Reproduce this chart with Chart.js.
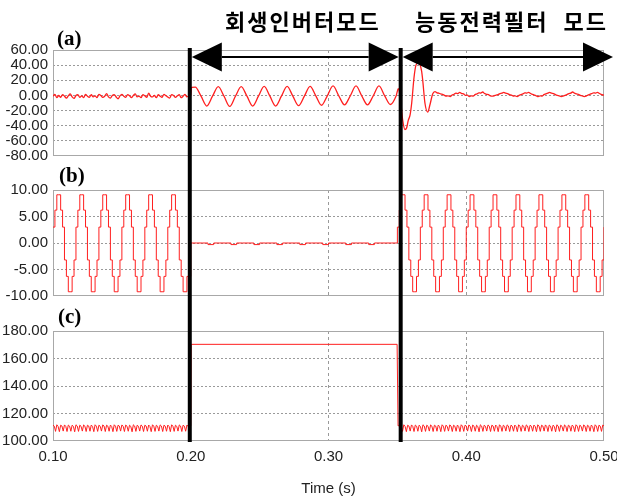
<!DOCTYPE html>
<html>
<head>
<meta charset="utf-8">
<script src="https://cdn.jsdelivr.net/npm/chart.js@4.4.0/dist/chart.umd.min.js"></script>
<style>
  html, body { margin: 0; padding: 0; background: #fff; }
  body { width: 617px; height: 501px; overflow: hidden; position: relative; }
  canvas { position: absolute; left: 0; }
  .lbl { position: absolute; font: bold 21px 'Liberation Serif', serif; line-height: 21px; color: #000; }
  .mode { position: absolute; top: 9px; font: bold 22px 'Noto Sans CJK KR', sans-serif; line-height: 22px; letter-spacing: 2px; white-space: pre; color: #000; }
</style>
</head>
<body>
<canvas id="pa" width="640" height="170" style="top:0"></canvas>
<canvas id="pb" width="640" height="140" style="top:170px"></canvas>
<canvas id="pc" width="640" height="191" style="top:310px"></canvas>
<div class="lbl" style="left:57px; top:28px">(a)</div>
<div class="lbl" style="left:59px; top:165px">(b)</div>
<div class="lbl" style="left:58px; top:306px">(c)</div>
<div class="mode" style="left:225px">회생인버터모드</div>
<div class="mode" style="left:415px; word-spacing:8px">능동전력필터 모드</div>
<script>
// time axis
const xTicks = [0.10, 0.20, 0.30, 0.40, 0.50];
const boundaries = [0.1993, 0.3524];          // thick black mode lines
const arrowSpans = [[0.1993, 0.3524], [0.3524, 0.508]];

// (a) y ticks + data
const aTicks = [-80, -60, -40, -20, 0, 20, 40, 60];
const aPre = [ // t = 0.10 .. 0.20, step 1/720
  -1, 1.5, -3, 0, -2.5, 1, -1, -3.5, -0.5, 2, -2, -4, 0, 1, -2.5, -0.5, -3, 1.5, -1, -2.5,
  1, -2, -0.5, -3, 1.5, 0, -2.5, -1, 2.5, -2, -3.5, 0, 1, -2, -4.5, -0.5, 1.5, -1, -2.5, 1,
  -0.5, -3, 0, 2, -2, -1, -3, 1, -0.5, -2.5, 3, -1, -2, 0, -3, 1, -1, -2.5, 1.5, -0.5,
  -2, -3.5, 1, 0, -2.5, -0.5, 1, -3, -1, 1.5, -2, -0.5, 0
];
const aJump = [[0.2006, 10.5]];
const aSine = [ // t = 0.2033 .. 0.3492, step 1/240
  11, -1, -14, -1, 11.5, -1, -14.5, -1, 11.5, -1, -14, -1,
  12, -1, -14, -1, 12, -1, -13.5, -1, 12, -0.5, -13, -0.5,
  12.5, -0.5, -12.5, -0.5, 12.5, -0.5, -12.5, -0.5, 12.5, -0.5, -12, -0.5
];
const aTrans = [
  [0.3507, 9], [0.3522, -5], [0.3538, -32], [0.3555, -45], [0.3567, -43], [0.3579, -33],
  [0.3592, -26], [0.3604, -10], [0.3621, 24], [0.3635, 40], [0.3650, 43], [0.3664, 41],
  [0.3676, 32], [0.3684, 20], [0.3700, -10], [0.3720, -22], [0.3737, -12], [0.3756, 2],
  [0.3773, 5], [0.3788, 3.5]
];
const aPost = [ // t = 0.38 .. 0.50, step 1/720
  3, 2, 1.5, 0, -1, -0.5, -1.5, 0.5, 1.5, 3, 2.5, 4, 2.5, 2, 0, 0.5, -1.5, -0.5, -1, 1,
  2, 3.5, 3, 4.5, 2.5, 1.5, 1, -0.5, -1, -0.5, 0.5, 1, 2.5, 3, 4, 3, 2.5, 1, 0.5, -1,
  -0.5, -1.5, 0, 1, 2, 3.5, 3, 4, 2.5, 1.5, 0.5, -0.5, -1.5, -0.5, -1, 1, 2, 3, 4, 3,
  2.5, 1, 0, -0.5, -1.5, -1, 0, 1, 2.5, 3, 4.5, 3, 2, 1.5, 0, -0.5, -1.5, -1, 0.5, 1.5,
  2.5, 3.5, 3, 4, 2.5, 1.5, 0.5, 1
];

// (b) y ticks + data
const bTicks = [-10, -5, 0, 5, 10];
const bPre = [ // t = 0.10 .., step 1/720
  3, 6.2, 9.1, 9.1, 6.2, 3, -3.2, -6.3, -9.2, -9.2, -6.3, -3.2,
  3, 6.2, 9.1, 9.1, 6.2, 3, -3.2, -6.3, -9.2, -9.2, -6.3, -3.2,
  3, 6.2, 9.1, 9.1, 6.2, 3, -3.2, -6.3, -9.2, -9.2, -6.3, -3.2,
  3, 6.2, 9.1, 9.1, 6.2, 3, -3.2, -6.3, -9.2, -9.2, -6.3, -3.2,
  3, 6.2, 9.1, 9.1, 6.2, 3, -3.2, -6.3, -9.2, -9.2, -6.3, -3.2,
  3, 6.2, 9.1, 9.1, 6.2, 3, -3.2, -6.3, -9.2, -9.2, -6.3, -6.3
];
const bMid = [ // t = 0.20 .., step 1/240
  0, 0, 0, -0.3, 0, 0, 0, -0.3, 0, 0, 0, -0.3, 0, 0, 0, -0.3, 0, 0, 0, -0.3,
  0, 0, 0, -0.3, 0, 0, 0, -0.3, 0, 0, 0, -0.3, 0, 0, 0, 0
];
const bPost = [ // t = 0.35 .. 0.50, step 1/720
  3, 6.2, 9.1, 9.1, 6.2, 3, -3.2, -6.3, -9.2, -9.2, -6.3, -3.2,
  3, 6.2, 9.1, 9.1, 6.2, 3, -3.2, -6.3, -9.2, -9.2, -6.3, -3.2,
  3, 6.2, 9.1, 9.1, 6.2, 3, -3.2, -6.3, -9.2, -9.2, -6.3, -3.2,
  3, 6.2, 9.1, 9.1, 6.2, 3, -3.2, -6.3, -9.2, -9.2, -6.3, -3.2,
  3, 6.2, 9.1, 9.1, 6.2, 3, -3.2, -6.3, -9.2, -9.2, -6.3, -3.2,
  3, 6.2, 9.1, 9.1, 6.2, 3, -3.2, -6.3, -9.2, -9.2, -6.3, -3.2,
  3, 6.2, 9.1, 9.1, 6.2, 3, -3.2, -6.3, -9.2, -9.2, -6.3, -3.2,
  3, 6.2, 9.1, 9.1, 6.2, 3, -3.2, -6.3, -9.2, -9.2, -6.3, -3.2,
  3, 6.2, 9.1, 9.1, 6.2, 3, -3.2, -6.3, -9.2, -9.2, -6.3, -3.2,
  3
];

// (c) y ticks + data
const cTicks = [100, 120, 140, 160, 180];
const cPre = [ // t = 0.10 .. 0.20, step 1/1080
  111.5, 110.8, 107, 111.8, 110.6, 106.8, 111.5, 110.9, 107.2, 111.7, 110.7, 106.9,
  111.6, 110.8, 107.1, 111.5, 110.6, 106.7, 111.8, 110.9, 107, 111.5, 110.7, 107.2,
  111.7, 110.8, 106.9, 111.5, 110.9, 107.1, 111.6, 110.6, 106.8, 111.8, 110.8, 107,
  111.5, 110.7, 107.2, 111.7, 110.9, 106.9, 111.5, 110.8, 107.1, 111.6, 110.6, 106.8,
  111.8, 110.8, 107, 111.5, 110.9, 107.2, 111.7, 110.7, 106.9, 111.6, 110.8, 107.1,
  111.5, 110.6, 106.7, 111.8, 110.9, 107, 111.5, 110.7, 107.2, 111.7, 110.8, 106.9,
  111.5, 110.9, 107.1, 111.6, 110.6, 106.8, 111.8, 110.8, 107, 111.5, 110.7, 107.2,
  111.7, 110.9, 106.9, 111.5, 110.8, 107.1, 111.6, 110.6, 106.8, 111.8, 110.8, 107,
  111.5, 110.7, 107.2, 111.7, 110.9, 106.9, 111.5, 110.8, 107.1, 111.6, 110.6, 106.8,
  111.5
];
const cMid = [[0.2, 111.5], [0.2003, 170.3], [0.3498, 170.3], [0.3505, 111]];
const cPost = [ // t = 0.3519 .. 0.50, step 1/1080
  111.5, 110.8, 107, 111.8, 110.6, 106.8, 111.5, 110.9, 107.2, 111.7, 110.7, 106.9,
  111.6, 110.8, 107.1, 111.5, 110.6, 106.7, 111.8, 110.9, 107, 111.5, 110.7, 107.2,
  111.7, 110.8, 106.9, 111.5, 110.9, 107.1, 111.6, 110.6, 106.8, 111.8, 110.8, 107,
  111.5, 110.7, 107.2, 111.7, 110.9, 106.9, 111.5, 110.8, 107.1, 111.6, 110.6, 106.8,
  111.8, 110.8, 107, 111.5, 110.9, 107.2, 111.7, 110.7, 106.9, 111.6, 110.8, 107.1,
  111.5, 110.6, 106.7, 111.8, 110.9, 107, 111.5, 110.7, 107.2, 111.7, 110.8, 106.9,
  111.5, 110.9, 107.1, 111.6, 110.6, 106.8, 111.8, 110.8, 107, 111.5, 110.7, 107.2,
  111.7, 110.9, 106.9, 111.5, 110.8, 107.1, 111.6, 110.6, 106.8, 111.8, 110.8, 107,
  111.5, 110.7, 107.2, 111.7, 110.9, 106.9, 111.5, 110.8, 107.1, 111.6, 110.6, 106.8,
  111.8, 110.8, 107, 111.5, 110.9, 107.2, 111.7, 110.7, 106.9, 111.6, 110.8, 107.1,
  111.5, 110.6, 106.7, 111.8, 110.9, 107, 111.5, 110.7, 107.2, 111.7, 110.8, 106.9,
  111.5, 110.9, 107.1, 111.6, 110.6, 106.8, 111.8, 110.8, 107, 111.5, 110.7, 107.2,
  111.7, 110.9, 106.9, 111.5, 110.8, 107.1, 111.6, 110.6, 106.8, 111.8, 110.8, 107,
  111.5, 110.8, 107, 111.6, 110.9
];

const RED = '#ff1f1f';
const GRID = '#9a9a9a';
const TICK_FONT = { family: "'Liberation Sans', Arial, sans-serif", size: 15 };

function sampled(t0, dt, vals){ return vals.map((v, i) => ({ x: t0 + i * dt, y: v })); }
function pairs(list){ return list.map(([x, y]) => ({ x, y })); }

const modesPlugin = {
  id: 'modes',
  beforeDatasetsDraw(chart){
    const { ctx, chartArea: a } = chart;
    ctx.save();
    ctx.strokeStyle = '#a8a8a8'; ctx.lineWidth = 1;
    ctx.strokeRect(a.left + 0.5, a.top + 0.5, a.width - 1, a.height - 1);
    ctx.restore();
  },
  afterDatasetsDraw(chart, args, o){
    const { ctx, chartArea: a, scales: { x } } = chart;
    ctx.save();
    ctx.fillStyle = '#000'; ctx.strokeStyle = '#000';
    const top = o.fromArea ? a.top - 2 : 0;
    const bottom = o.toArea ? a.bottom + 1 : chart.height;
    boundaries.forEach(b => {
      const px = x.getPixelForValue(b);
      ctx.fillRect(px - 2, top, 4, bottom - top);
    });
    if (o.arrows){
      const y = a.top + 7, L = 30, H = 14.5;
      arrowSpans.forEach(([t0, t1]) => {
        const l = x.getPixelForValue(t0) + 2, r = x.getPixelForValue(t1) - 2;
        ctx.lineWidth = 2;
        ctx.beginPath(); ctx.moveTo(l + L, y); ctx.lineTo(r - L, y); ctx.stroke();
        ctx.beginPath(); ctx.moveTo(l, y); ctx.lineTo(l + L, y - H); ctx.lineTo(l + L, y + H); ctx.closePath(); ctx.fill();
        ctx.beginPath(); ctx.moveTo(r, y); ctx.lineTo(r - L, y - H); ctx.lineTo(r - L, y + H); ctx.closePath(); ctx.fill();
      });
    }
    ctx.restore();
  }
};

function edgeColor(min, max){
  return c => (c.tick && (Math.abs(c.tick.value - min) < 1e-9 || Math.abs(c.tick.value - max) < 1e-9)) ? 'rgba(0,0,0,0)' : GRID;
}

function makePanel(id, data, ticks, pad, opts){
  const yMin = ticks[0], yMax = ticks[ticks.length - 1];
  const showX = !!opts.showX;
  return new Chart(document.getElementById(id), {
    type: 'line',
    data: { datasets: [Object.assign({ data, borderColor: RED, borderWidth: 1, pointRadius: 0, fill: false }, opts.ds)] },
    options: {
      responsive: false, animation: false, events: [],
      layout: { padding: { left: 0, right: 36, top: pad[0], bottom: pad[1] } },
      plugins: { legend: { display: false }, tooltip: { enabled: false }, modes: opts.modes },
      scales: {
        x: {
          type: 'linear', min: 0.1, max: 0.5,
          afterBuildTicks: s => { s.ticks = xTicks.map(v => ({ value: v })); },
          afterFit: s => { s.height = showX ? 60 : 0; },
          ticks: { display: showX, autoSkip: false, maxRotation: 0, padding: 7, color: '#222', font: TICK_FONT, callback: v => v.toFixed(2) },
          grid: { drawTicks: false, color: edgeColor(0.1, 0.5), borderDash: [3, 3] },
          border: { display: false, dash: [3, 3] },
          title: { display: showX, text: 'Time (s)', color: '#222', font: TICK_FONT, padding: { top: 0, bottom: 3 } }
        },
        y: {
          min: yMin, max: yMax,
          afterBuildTicks: s => { s.ticks = ticks.map(v => ({ value: v })); },
          afterFit: s => { s.width = 53; },
          ticks: { autoSkip: false, padding: 5, color: '#222', font: TICK_FONT, callback: v => v.toFixed(2) },
          grid: { drawTicks: false, color: edgeColor(yMin, yMax), borderDash: [2, 2] },
          border: { display: false, dash: [2, 2] }
        }
      }
    },
    plugins: [modesPlugin]
  });
}

const dataA = [
  ...sampled(0.10, 1 / 720, aPre),
  ...pairs(aJump),
  ...sampled(0.2033, 1 / 240, aSine),
  ...pairs(aTrans),
  ...sampled(0.38, 1 / 720, aPost)
];
const dataB = [
  ...sampled(0.10, 1 / 720, bPre),
  ...sampled(0.20, 1 / 240, bMid),
  ...sampled(0.35, 1 / 720, bPost)
];
const dataC = [
  ...sampled(0.10, 1 / 1080, cPre),
  ...pairs(cMid),
  ...sampled(0.3519, 1 / 1080, cPost)
];

makePanel('pa', dataA, aTicks, [50, 10], { ds: { cubicInterpolationMode: 'monotone', borderWidth: 1.3 }, modes: { fromArea: true, arrows: true } });
makePanel('pb', dataB, bTicks, [20, 10], { ds: { stepped: true }, modes: {} });
makePanel('pc', dataC, cTicks, [21, 0], { showX: true, ds: {}, modes: { toArea: true } });
</script>
</body>
</html>
